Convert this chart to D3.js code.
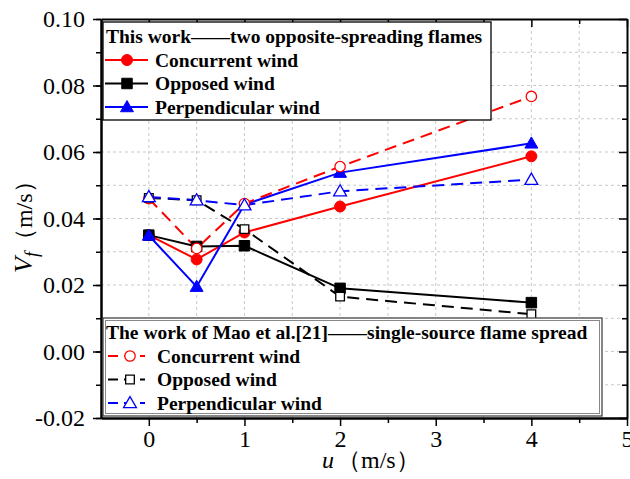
<!DOCTYPE html>
<html>
<head>
<meta charset="utf-8">
<script src="https://cdn.jsdelivr.net/npm/d3@7"></script>
<style>
body { margin: 0; background: #fff; }
</style>
</head>
<body>
<svg id="chart"></svg>
<script>
// wind speed u (m/s)
const windSpeeds = [0, 0.5, 1, 2, 4];

// this work: two opposite-spreading flames
const concurrentThis = [0.0350, 0.0277, 0.0358, 0.0436, 0.0587];
const opposedThis = [0.0350, 0.0316, 0.0318, 0.0190, 0.0147];
const perpendicularThis = [0.0349, 0.0195, 0.0442, 0.0538, 0.0626];

// Mao et al.[21]: single-source flame spread
const concurrentMao = [0.0460, 0.0310, 0.0445, 0.0556, 0.0767];
const opposedMao = [0.0462, 0.0455, 0.0368, 0.0165, 0.0112];
const perpendicularMao = [0.0465, 0.0455, 0.0440, 0.0482, 0.0517];

const xTicks = [0, 1, 2, 3, 4, 5];
const yTicks = [-0.02, 0.00, 0.02, 0.04, 0.06, 0.08, 0.10];

const FONT = 'Liberation Serif';
const width = 630, height = 479;
const margin = {top: 19, right: 3, bottom: 61, left: 101};

const svg = d3.select('#chart')
    .attr('width', width)
    .attr('height', height)
    .attr('font-family', FONT);

const x = d3.scaleLinear().domain([-0.5, 5]).range([margin.left, width - margin.right]);
const y = d3.scaleLinear().domain([-0.02, 0.10]).range([height - margin.bottom, margin.top]);

const minorX = d3.range(0, 5.01, 0.5);
const minorY = d3.range(-0.02, 0.1001, 0.01);

// grid
const grid = svg.append('g');
grid.selectAll('.gx')
    .data(minorX.filter(v => v < 5))
    .join('line')
    .attr('x1', d => x(d)).attr('x2', d => x(d))
    .attr('y1', y(-0.02)).attr('y2', y(0.10))
    .attr('stroke', '#c8c8c8').attr('stroke-dasharray', '3,3');
grid.selectAll('.gy')
    .data(minorY.filter(v => v > -0.019 && v < 0.099))
    .join('line')
    .attr('x1', x(-0.5)).attr('x2', x(5))
    .attr('y1', d => y(d)).attr('y2', d => y(d))
    .attr('stroke', '#c8c8c8').attr('stroke-dasharray', '3,3');

// axes
const fmtY = d => d3.format('.2f')(d).replace('−', '-');
const axisStyle = g => {
    g.attr('font-family', FONT).attr('font-size', 24);
    g.select('.domain').attr('stroke', '#000').attr('stroke-width', 2);
    g.selectAll('.tick line').attr('stroke', '#000').attr('stroke-width', 1.5);
    g.selectAll('text').attr('fill', '#000');
};

svg.append('g')
    .attr('transform', `translate(0,${y(-0.02)})`)
    .call(d3.axisBottom(x).tickValues(xTicks).tickSizeOuter(0)
        .tickSize(0).tickPadding(12).tickFormat(d3.format('d')))
    .call(axisStyle);
svg.append('g')
    .attr('transform', `translate(0,${y(-0.02)})`)
    .call(d3.axisBottom(x).tickValues(minorX).tickFormat('').tickSizeOuter(0)
        .tickSize(0))
    .call(g => g.selectAll('.tick line').attr('y2', d => Number.isInteger(d) ? 8 : 5))
    .call(axisStyle);

svg.append('g')
    .attr('transform', `translate(${x(-0.5)},0)`)
    .call(d3.axisLeft(y).tickValues(yTicks).tickFormat(fmtY).tickSize(8).tickPadding(8).tickSizeOuter(0))
    .call(axisStyle);
svg.append('g')
    .attr('transform', `translate(${x(-0.5)},0)`)
    .call(d3.axisLeft(y).tickValues(minorY).tickFormat('').tickSize(5).tickSizeOuter(0))
    .call(axisStyle);

// top and right mirrored axes, ticks inward
svg.append('g')
    .attr('transform', `translate(0,${y(0.10)})`)
    .call(d3.axisBottom(x).tickValues(minorX).tickFormat('').tickSizeOuter(0)
        .tickSize(0))
    .call(g => g.selectAll('.tick line').attr('y2', d => Number.isInteger(d) ? 8 : 5))
    .call(axisStyle);
svg.append('g')
    .attr('transform', `translate(${x(5)},0)`)
    .call(d3.axisLeft(y).tickValues(minorY).tickFormat('').tickSizeOuter(0).tickSize(0))
    .call(g => g.selectAll('.tick line').attr('x2', (d, i) => (i % 2 === 0) ? -8 : -5))
    .call(axisStyle);

// axis titles
svg.append('text')
    .attr('transform', 'translate(32,273) rotate(-90)')
    .attr('font-size', 26)
    .html('<tspan font-style="italic">V</tspan><tspan font-style="italic" font-size="18" dy="6">f</tspan><tspan dy="-6" font-size="24">（m/s）</tspan>');

svg.append('text')
    .attr('x', 322).attr('y', 468)
    .attr('font-size', 24)
    .html('<tspan font-style="italic">u</tspan><tspan dx="3">（m/s）</tspan>');

// series
const series = [
    {name: 'Concurrent wind', values: concurrentThis, color: '#ff0000', dash: null, marker: 'circle', filled: true},
    {name: 'Opposed wind', values: opposedThis, color: '#000000', dash: null, marker: 'square', filled: true},
    {name: 'Perpendicular wind', values: perpendicularThis, color: '#0000ff', dash: null, marker: 'triangle', filled: true},
    {name: 'Concurrent wind', values: concurrentMao, color: '#ff0000', dash: '12,7', marker: 'circle', filled: false},
    {name: 'Opposed wind', values: opposedMao, color: '#000000', dash: '12,7', marker: 'square', filled: false},
    {name: 'Perpendicular wind', values: perpendicularMao, color: '#0000ff', dash: '12,7', marker: 'triangle', filled: false}
];

const symbolFor = m => m === 'circle' ? d3.symbolCircle : (m === 'square' ? d3.symbolSquare : d3.symbolTriangle);
const sizeFor = (m, filled) => m === 'circle' ? (filled ? 95 : 85) : (m === 'square' ? (filled ? 110 : 75) : 72);

const line = d3.line().x(d => x(d[0])).y(d => y(d[1]));

function drawMarker(g, s, cx, cy) {
    g.append('path')
        .attr('transform', `translate(${cx},${cy})` + (s.marker === 'triangle' ? ' translate(0,1)' : ''))
        .attr('d', d3.symbol().type(symbolFor(s.marker)).size(sizeFor(s.marker, s.filled))())
        .attr('fill', s.filled ? s.color : '#fff')
        .attr('stroke', s.color)
        .attr('stroke-width', s.filled ? 1 : 1.3);
}

const plot = svg.append('g');
series.forEach(s => {
    const pts = windSpeeds.map((u, i) => [u, s.values[i]]);
    plot.append('path')
        .datum(pts)
        .attr('d', line)
        .attr('fill', 'none')
        .attr('stroke', s.color)
        .attr('stroke-width', 2)
        .attr('stroke-dasharray', s.dash);
});
series.forEach(s => {
    windSpeeds.forEach((u, i) => drawMarker(plot, s, x(u), y(s.values[i])));
});

// legends
function legend(x0, y0, w, h, title, items, double) {
    const g = svg.append('g').attr('font-size', 19.5).attr('font-weight', 'bold');
    g.append('rect').attr('x', x0).attr('y', y0).attr('width', w).attr('height', h)
        .attr('fill', '#fff').attr('stroke', double ? '#444' : '#000').attr('stroke-width', 1.3);
    if (double) {
        g.append('rect').attr('x', x0 + 2.5).attr('y', y0 + 2.5).attr('width', w - 5).attr('height', h - 5)
            .attr('fill', 'none').attr('stroke', '#888').attr('stroke-width', 1);
    }
    g.append('text').attr('x', x0 + 3).attr('y', y0 + 21).text(title);
    items.forEach((s, i) => {
        const cy = y0 + 38 + i * 23.5;
        const x1 = double ? x0 + 5 : x0 + 2;
        const x2 = double ? x0 + 42 : x0 + 45;
        g.append('line').attr('x1', x1).attr('x2', x2).attr('y1', cy).attr('y2', cy)
            .attr('stroke', s.color).attr('stroke-width', 2.2)
            .attr('stroke-dasharray', s.dash ? '10,6' : null);
        drawMarker(g, s, double ? x0 + 27 : x0 + 24, cy);
        g.append('text').attr('x', double ? x0 + 54 : x0 + 52).attr('y', cy + 6.5).text(s.name);
    });
}

legend(103, 22, 388, 98, 'This work——two opposite-spreading flames', series.slice(0, 3), false);
legend(103, 318, 499, 98, 'The work of Mao et al.[21]——single-source flame spread', series.slice(3), true);
</script>
</body>
</html>
